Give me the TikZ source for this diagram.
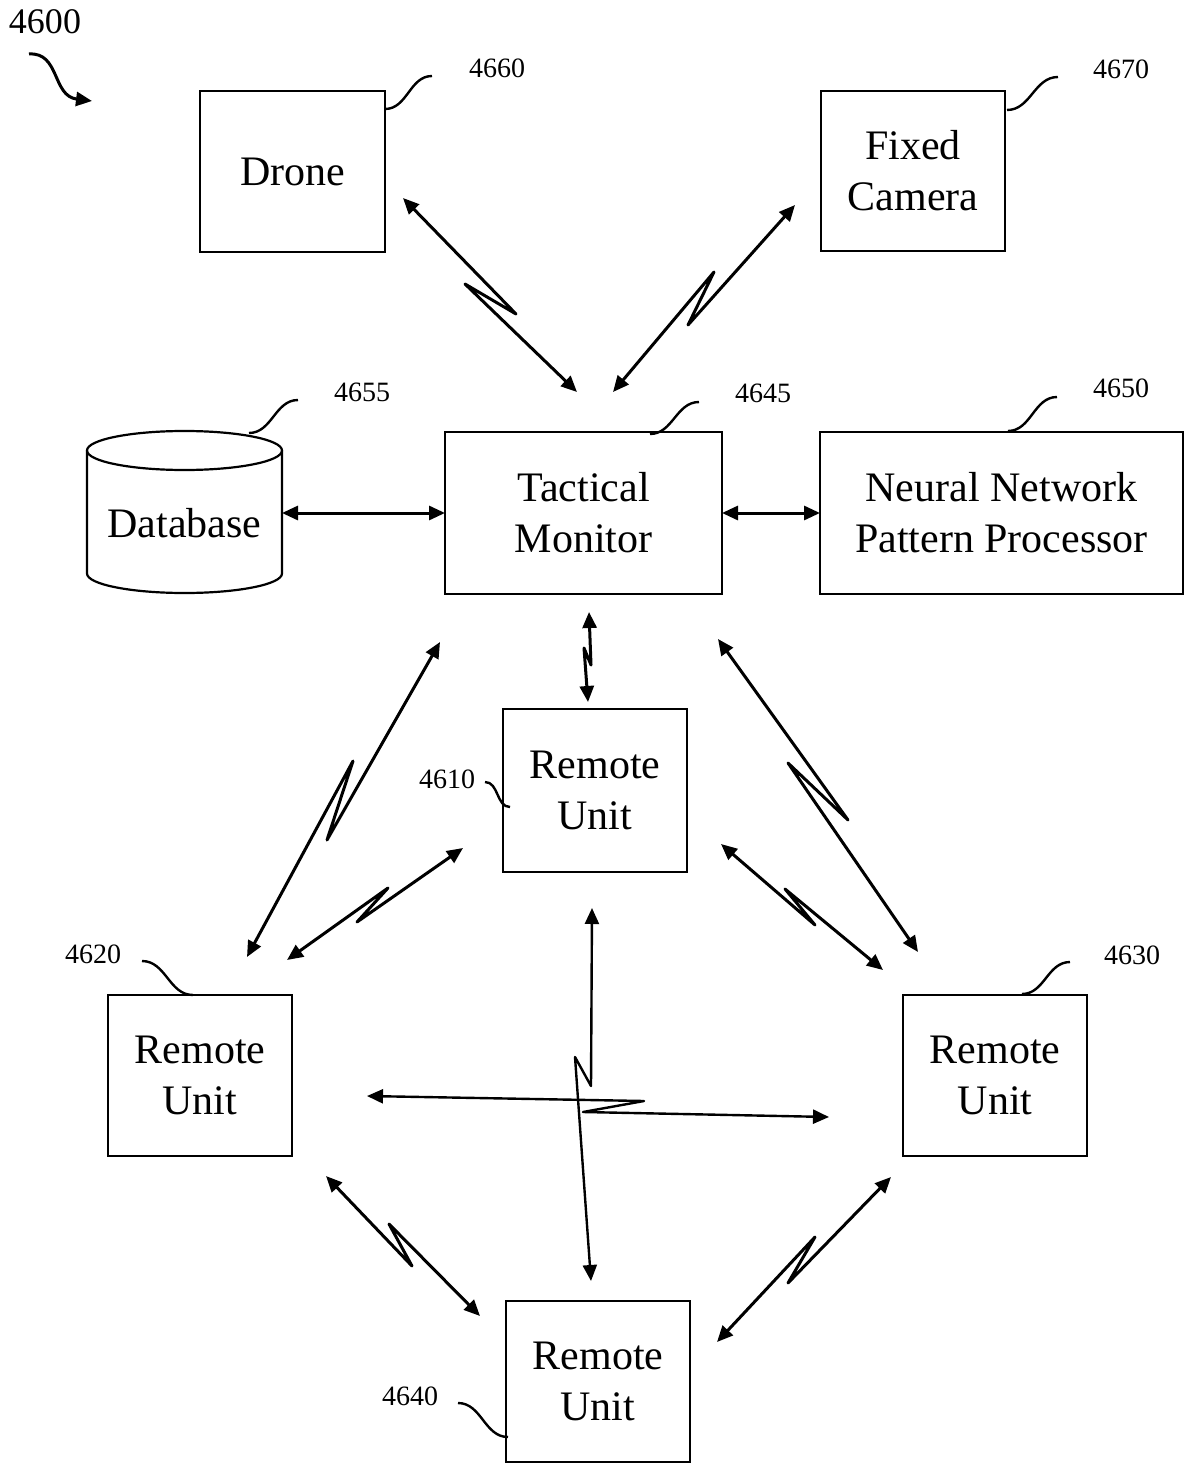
\documentclass[tikz,border=0pt]{standalone}
\usepackage{fontspec}
\setmainfont{Liberation Serif}
\usetikzlibrary{arrows.meta}
\begin{document}
\begin{tikzpicture}[x=0.5pt,y=-0.5pt,
  box/.style 2 args={draw,line width=1.1pt,inner sep=0pt,align=center,
    minimum width=#1*0.5pt,minimum height=#2*0.5pt,
    font=\fontsize{21}{25.5}\selectfont},
  lbl/.style={inner sep=0pt,font=\fontsize{14}{16}\selectfont},
  link/.style={line width=1.5pt,line join=round,
    {Triangle[length=8pt,width=7pt]}-{Triangle[length=8pt,width=7pt]}},
  leader/.style={line width=1.2pt}]
\useasboundingbox (0,0) rectangle (1184,1465);

% nodes
\node[box={185}{161}] (drone) at (292.5,171.5) {Drone};
\node[box={184}{160}] (cam) at (913,171) {Fixed\\Camera};
\node[box={277}{162}] (tm) at (583.5,513) {Tactical\\Monitor};
\node[box={363}{162}] (nn) at (1001.5,513) {Neural Network\\Pattern Processor};
\node[box={184}{163}] (ru1) at (595,790.5) {Remote\\Unit};
\node[box={184}{161}] (ru2) at (200,1075.5) {Remote\\Unit};
\node[box={184}{161}] (ru3) at (995,1075.5) {Remote\\Unit};
\node[box={184}{161}] (ru4) at (598,1381.5) {Remote\\Unit};

% database cylinder
\draw[line width=1.1pt] (184.5,450.5) ellipse [x radius=97.5, y radius=19.5];
\draw[line width=1.1pt] (87,450.5) -- (87,573.5) arc[start angle=180, end angle=0, x radius=97.5, y radius=19.5] -- (282,450.5);
\node[inner sep=0pt,font=\fontsize{21}{25.5}\selectfont] (db) at (184.5,523) {Database};

% reference labels
\node[inner sep=0pt,font=\fontsize{18}{20}\selectfont] (l4600) at (45,22) {4600};
\node[lbl] (l4660) at (497,68) {4660};
\node[lbl] (l4670) at (1121,69) {4670};
\node[lbl] (l4655) at (362,392) {4655};
\node[lbl] (l4645) at (763,393) {4645};
\node[lbl] (l4650) at (1121,388) {4650};
\node[lbl] (l4610) at (447,779) {4610};
\node[lbl] (l4620) at (93,954) {4620};
\node[lbl] (l4630) at (1132,955) {4630};
\node[lbl] (l4640) at (410,1396) {4640};

% leader curves
\draw[line width=1.5pt,-{Triangle[length=8pt,width=7pt]}] (29,54) .. controls (60,52) and (52,96) .. (92,101);
\draw[leader] (432,76) to[out=180,in=0] (385,109);
\draw[leader] (1058,77) to[out=180,in=0] (1007,110);
\draw[leader] (298,400) to[out=180,in=0] (249,433);
\draw[leader] (699,402) to[out=180,in=0] (650,434);
\draw[leader] (1057,397) to[out=180,in=0] (1008,431);
\draw[leader] (1070,962) to[out=180,in=0] (1022,994);
\draw[leader] (142,961) to[out=0,in=180] (193,995);
\draw[leader] (485,782) to[out=0,in=180] (510,807);
\draw[leader] (458,1403) to[out=0,in=180] (508,1437);

% arrow end coordinates
\coordinate (drA) at (403,198);  \coordinate (drB) at (577,392);
\coordinate (caA) at (795,205);  \coordinate (caB) at (613,392);
\coordinate (dbA) at (282,513);  \coordinate (dbB) at (445,513);
\coordinate (nnA) at (722,513);  \coordinate (nnB) at (820,513);
\coordinate (t1A) at (589,612);  \coordinate (t1B) at (588,702);
\coordinate (t2A) at (440,642);  \coordinate (t2B) at (247,957);
\coordinate (t3A) at (718,639);  \coordinate (t3B) at (918,952);
\coordinate (a12) at (463,848);  \coordinate (b12) at (287,960);
\coordinate (a13) at (721,844);  \coordinate (b13) at (883,970);
\coordinate (a14) at (592,908);  \coordinate (b14) at (591,1281);
\coordinate (a23) at (367,1096); \coordinate (b23) at (829,1117);
\coordinate (a24) at (326,1176); \coordinate (b24) at (480,1316);
\coordinate (a34) at (891,1177); \coordinate (b34) at (717,1342);

% connectors
\draw[link] (drA) -- (516,314) -- (465,284) -- (drB);
\draw[link] (caA) -- (688,325) -- (714,272) -- (caB);
\draw[link] (dbA) -- (dbB);
\draw[link] (nnA) -- (nnB);
\draw[link] (t1A) -- (591,665) -- (584,648) -- (t1B);
\draw[link] (t2A) -- (327,840) -- (353,761) -- (t2B);
\draw[link] (t3A) -- (848,820) -- (788,763) -- (t3B);
\draw[link] (a12) -- (357,922) -- (388,888) -- (b12);
\draw[link] (a13) -- (815,925) -- (785,889) -- (b13);
\draw[link,line width=1.2pt] (a14) -- (591,1086) -- (575,1057) -- (b14);
\draw[link,line width=1.2pt] (a23) -- (644,1101) -- (583,1112) -- (b23);
\draw[link] (a24) -- (412,1266) -- (389,1224) -- (b24);
\draw[link] (a34) -- (788,1283) -- (815,1237) -- (b34);
\end{tikzpicture}
\end{document}
